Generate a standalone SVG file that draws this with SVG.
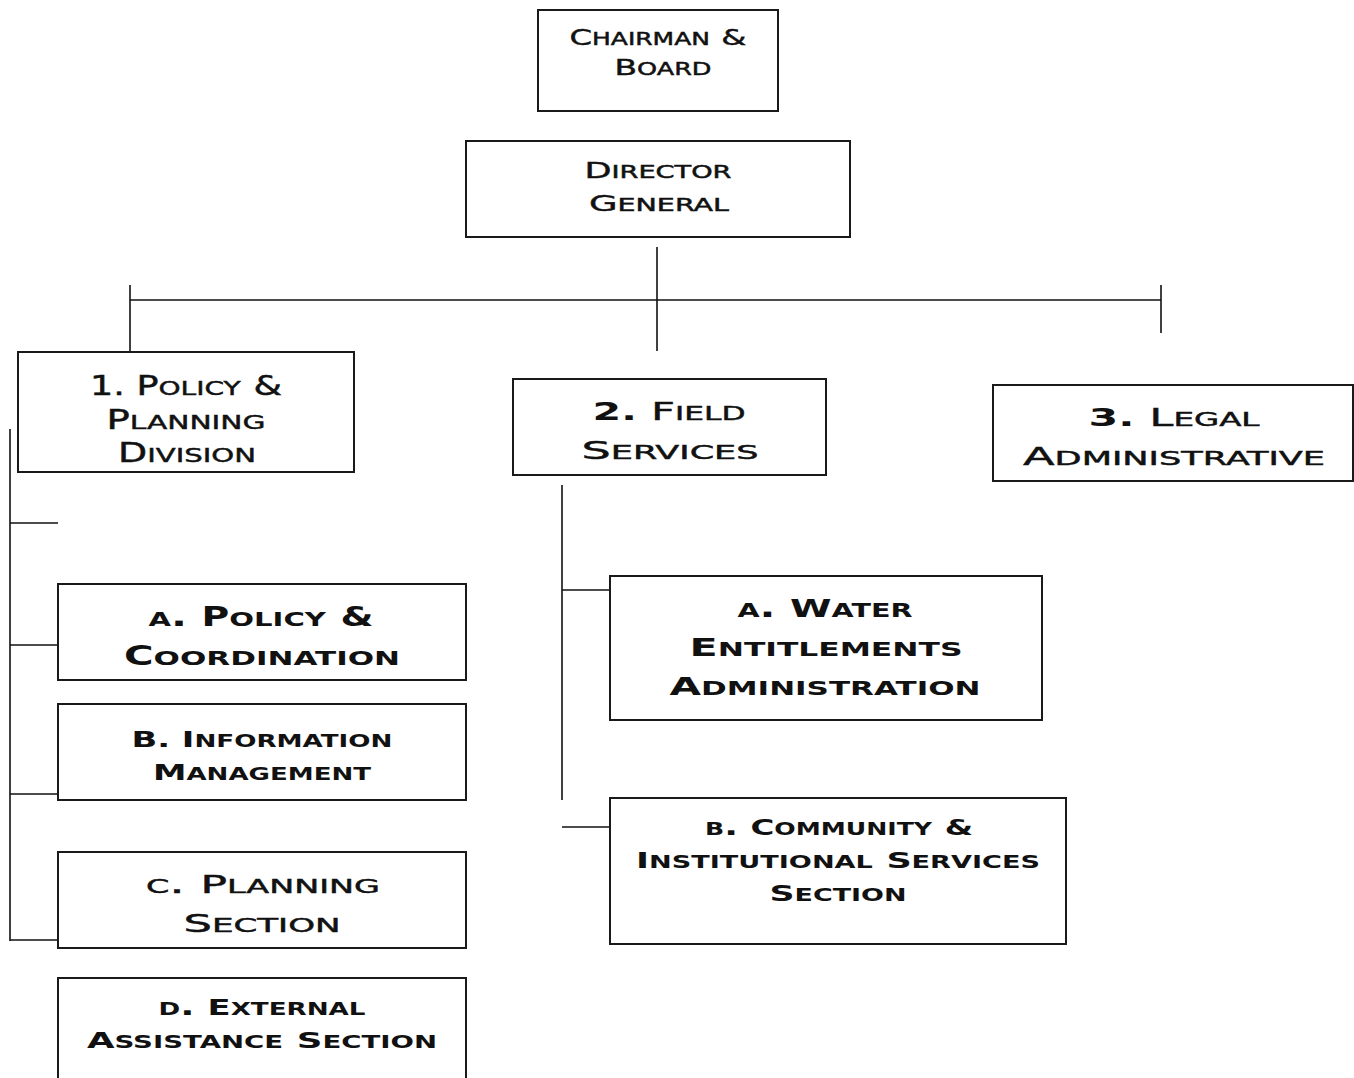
<svg xmlns="http://www.w3.org/2000/svg" width="1354" height="1078" viewBox="0 0 1354 1078">
<style>
.box{fill:#fff;stroke:#1a1a1a;stroke-width:2}
.ln{stroke:#111;stroke-width:1.6;fill:none}
text{font-family:"DejaVu Sans","Liberation Sans",sans-serif;font-variant:small-caps;text-anchor:middle;fill:#111;stroke:#111;stroke-width:0.45}
.b{font-weight:bold;stroke-width:0}
.c{font-size:0.9em}
</style>
<rect width="1354" height="1078" fill="#fff"/>
<g id="connectors">
<line class="ln" x1="657" y1="247" x2="657" y2="351"/>
<line class="ln" x1="130" y1="300" x2="1161" y2="300"/>
<line class="ln" x1="130" y1="285" x2="130" y2="352"/>
<line class="ln" x1="1161" y1="285" x2="1161" y2="333"/>
<line class="ln" x1="10" y1="429" x2="10" y2="941"/>
<line class="ln" x1="10" y1="523" x2="58" y2="523"/>
<line class="ln" x1="10" y1="645" x2="58" y2="645"/>
<line class="ln" x1="10" y1="794" x2="58" y2="794"/>
<line class="ln" x1="10" y1="940" x2="58" y2="940"/>
<line class="ln" x1="562" y1="485" x2="562" y2="800"/>
<line class="ln" x1="562" y1="590" x2="610" y2="590"/>
<line class="ln" x1="562" y1="827" x2="610" y2="827"/>
</g>
<g id="chairman">
<rect class="box" x="538" y="10" width="240" height="101"/>
<text x="658" y="45" font-size="24.4" textLength="177" lengthAdjust="spacingAndGlyphs"><tspan class="c">C</tspan>hairman <tspan class="c">&amp;</tspan></text>
<text x="663" y="75" font-size="24.4" textLength="97" lengthAdjust="spacingAndGlyphs"><tspan class="c">B</tspan>oard</text>
</g>
<g id="director">
<rect class="box" x="466" y="141" width="384" height="96"/>
<text x="658" y="178" font-size="24.4" textLength="147" lengthAdjust="spacingAndGlyphs"><tspan class="c">D</tspan>irector</text>
<text x="659" y="211" font-size="24.4" textLength="140" lengthAdjust="spacingAndGlyphs"><tspan class="c">G</tspan>eneral</text>
</g>
<g id="policy-planning">
<rect class="box" x="18" y="352" width="336" height="120"/>
<text x="186" y="395" font-size="28.9" textLength="192" lengthAdjust="spacingAndGlyphs"><tspan class="c">1. P</tspan>olicy <tspan class="c">&amp;</tspan></text>
<text x="186" y="429" font-size="28.9" textLength="159" lengthAdjust="spacingAndGlyphs"><tspan class="c">P</tspan>lanning</text>
<text x="187" y="462" font-size="28.9" textLength="138" lengthAdjust="spacingAndGlyphs"><tspan class="c">D</tspan>ivision</text>
</g>
<g id="field-services">
<rect class="box" x="513" y="379" width="313" height="96"/>
<text x="669" y="420" font-size="27.8" textLength="153" lengthAdjust="spacingAndGlyphs"><tspan class="c b">2.</tspan> <tspan class="c">F</tspan>ield</text>
<text x="670" y="459" font-size="27.8" textLength="177" lengthAdjust="spacingAndGlyphs"><tspan class="c">S</tspan>ervices</text>
</g>
<g id="legal">
<rect class="box" x="993" y="385" width="360" height="96"/>
<text x="1174" y="426" font-size="27.8" textLength="171" lengthAdjust="spacingAndGlyphs"><tspan class="c b">3.</tspan> <tspan class="c">L</tspan>egal</text>
<text x="1174" y="465" font-size="27.8" textLength="302" lengthAdjust="spacingAndGlyphs"><tspan class="c">A</tspan>dministrative</text>
</g>
<g id="policy-coordination">
<rect class="box" x="58" y="584" width="408" height="96"/>
<text class="b" x="261" y="626" font-size="28.9" textLength="225" lengthAdjust="spacingAndGlyphs">a. <tspan class="c">P</tspan>olicy <tspan class="c">&amp;</tspan></text>
<text class="b" x="262" y="665" font-size="28.9" textLength="276" lengthAdjust="spacingAndGlyphs"><tspan class="c">C</tspan>oordination</text>
</g>
<g id="information-management">
<rect class="box" x="58" y="704" width="408" height="96"/>
<text class="b" x="262" y="747" font-size="24.4" textLength="261" lengthAdjust="spacingAndGlyphs"><tspan class="c">B. I</tspan>nformation</text>
<text class="b" x="262" y="780" font-size="24.4" textLength="218" lengthAdjust="spacingAndGlyphs"><tspan class="c">M</tspan>anagement</text>
</g>
<g id="planning-section">
<rect class="box" x="58" y="852" width="408" height="96"/>
<text x="263" y="893" font-size="27.8" textLength="234" lengthAdjust="spacingAndGlyphs">c. <tspan class="c">P</tspan>lanning</text>
<text x="262" y="932" font-size="27.8" textLength="157" lengthAdjust="spacingAndGlyphs"><tspan class="c">S</tspan>ection</text>
</g>
<g id="external-assistance">
<rect class="box" x="58" y="978" width="408" height="130"/>
<text class="b" x="262" y="1015" font-size="24.4" textLength="207" lengthAdjust="spacingAndGlyphs">d. <tspan class="c">E</tspan>xternal</text>
<text class="b" x="262" y="1048" font-size="24.4" textLength="350" lengthAdjust="spacingAndGlyphs"><tspan class="c">A</tspan>ssistance <tspan class="c">S</tspan>ection</text>
</g>
<g id="water-entitlements">
<rect class="box" x="610" y="576" width="432" height="144"/>
<text class="b" x="825" y="617" font-size="27.8" textLength="175" lengthAdjust="spacingAndGlyphs">a. <tspan class="c">W</tspan>ater</text>
<text class="b" x="826" y="656" font-size="27.8" textLength="273" lengthAdjust="spacingAndGlyphs"><tspan class="c">E</tspan>ntitlements</text>
<text class="b" x="825" y="695" font-size="27.8" textLength="311" lengthAdjust="spacingAndGlyphs"><tspan class="c">A</tspan>dministration</text>
</g>
<g id="community-institutional">
<rect class="box" x="610" y="798" width="456" height="146"/>
<text class="b" x="839" y="835" font-size="24.4" textLength="268" lengthAdjust="spacingAndGlyphs">b. <tspan class="c">C</tspan>ommunity <tspan class="c">&amp;</tspan></text>
<text class="b" x="838" y="868" font-size="24.4" textLength="404" lengthAdjust="spacingAndGlyphs"><tspan class="c">I</tspan>nstitutional <tspan class="c">S</tspan>ervices</text>
<text class="b" x="838" y="901" font-size="24.4" textLength="137" lengthAdjust="spacingAndGlyphs"><tspan class="c">S</tspan>ection</text>
</g>
</svg>
